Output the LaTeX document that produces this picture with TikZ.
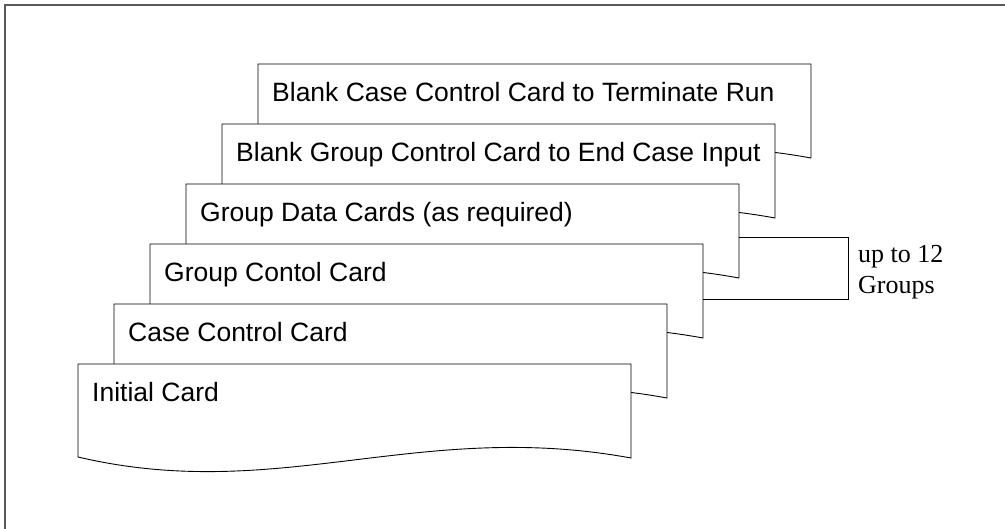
\documentclass[tikz,border=0pt]{standalone}
\usepackage{fontspec}
\setmainfont{Liberation Sans}
\newfontfamily\timesfont{Liberation Serif}

\begin{document}
\begin{tikzpicture}[x=1pt,y=-1pt,
    card/.style={draw=black, fill=white, line width=0.9pt},
    cardtext/.style={anchor=base west, inner sep=0pt, font=\fontsize{26.5}{30}\selectfont}]
    \useasboundingbox (0,0) rectangle (1005,529);
    \draw[gray!70!black, line width=1.5pt] (5,529) -- (5,5) -- (1005,5);

    % deck of cards, drawn from the back to the front
    \foreach \i/\txt in {6/Blank Case Control Card to Terminate Run,
                         5/Blank Group Control Card to End Case Input,
                         4/Group Data Cards (as required),
                         3/Group Contol Card,
                         2/Case Control Card,
                         1/Initial Card} {
        \begin{scope}[shift={({78+36*(\i-1)},{364-60*(\i-1)})}]
            \draw[card] (0,0) -- (553,0) -- (553,94) .. controls (340,55) and (200,140) .. (0,93) -- cycle;
            \coordinate (r\i) at (553,0);
            \node[cardtext] (card\i) at (14,38) {\txt};
        \end{scope}
    }

    % bracket round the group cards
    \draw[line width=0.9pt] ([yshift=-53pt]r4) -- ++(109,0) |- ([yshift=-55pt]r3);
    \node[anchor=west, align=left, inner sep=0pt, font=\timesfont\fontsize{26}{31}\selectfont] (groups) at (858,272) {up to 12\\Groups};
\end{tikzpicture}
\end{document}
